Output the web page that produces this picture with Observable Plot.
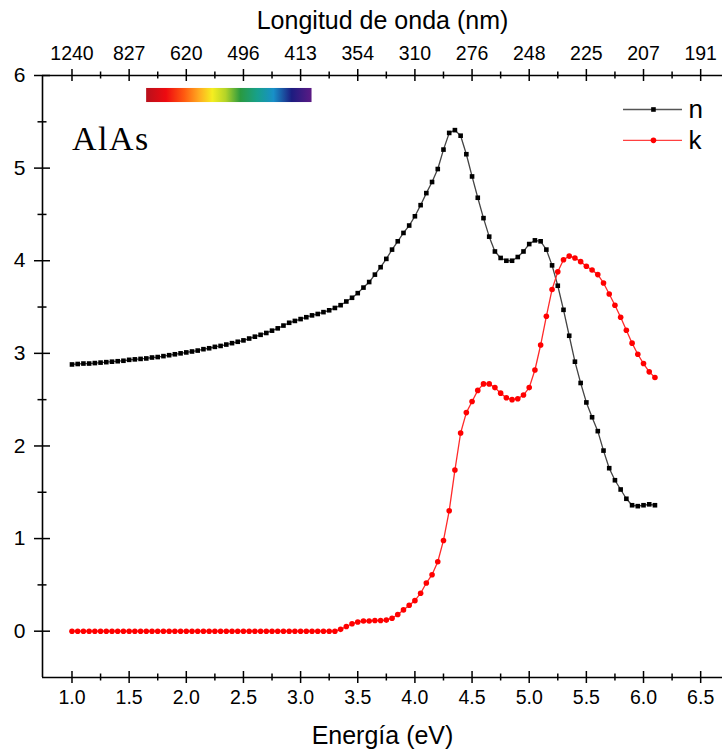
<!DOCTYPE html>
<html><head><meta charset="utf-8">
<script src="https://cdn.jsdelivr.net/npm/d3@7"></script>
<script src="https://cdn.jsdelivr.net/npm/@observablehq/plot@0.6"></script>
<style>
html,body{margin:0;padding:0;background:#fff;}
</style>
</head><body><div id="chart"></div>
<script>
// Photon energy (eV)
const energy = [
1.00,1.05,1.10,1.15,1.20,1.25,1.30,1.35,1.40,1.45,
1.50,1.55,1.60,1.65,1.70,1.75,1.80,1.85,1.90,1.95,
2.00,2.05,2.10,2.15,2.20,2.25,2.30,2.35,2.40,2.45,
2.50,2.55,2.60,2.65,2.70,2.75,2.80,2.85,2.90,2.95,
3.00,3.05,3.10,3.15,3.20,3.25,3.30,3.35,3.40,3.45,
3.50,3.55,3.60,3.65,3.70,3.75,3.80,3.85,3.90,3.95,
4.00,4.05,4.10,4.15,4.20,4.25,4.30,4.35,4.40,4.45,
4.50,4.55,4.60,4.65,4.70,4.75,4.80,4.85,4.90,4.95,
5.00,5.05,5.10,5.15,5.20,5.25,5.30,5.35,5.40,5.45,
5.50,5.55,5.60,5.65,5.70,5.75,5.80,5.85,5.90,5.95,
6.00,6.05,6.10];
// Refractive index n
const nValues = [
2.88,2.885,2.89,2.89,2.895,2.90,2.905,2.91,2.915,2.92,
2.93,2.935,2.94,2.945,2.955,2.96,2.97,2.98,2.99,3.00,
3.01,3.02,3.03,3.045,3.055,3.07,3.08,3.095,3.11,3.125,
3.14,3.16,3.18,3.20,3.22,3.245,3.27,3.30,3.33,3.35,
3.37,3.39,3.41,3.425,3.445,3.465,3.49,3.52,3.56,3.60,
3.65,3.71,3.77,3.85,3.93,4.02,4.12,4.21,4.30,4.38,
4.48,4.60,4.73,4.85,4.99,5.20,5.38,5.41,5.35,5.15,
4.91,4.68,4.46,4.26,4.10,4.03,4.00,4.00,4.04,4.10,
4.18,4.22,4.21,4.12,3.95,3.73,3.47,3.19,2.91,2.68,
2.47,2.31,2.16,1.95,1.76,1.63,1.53,1.43,1.36,1.35,
1.36,1.37,1.36];
// Extinction coefficient k
const kValues = [
0,0,0,0,0,0,0,0,0,0,
0,0,0,0,0,0,0,0,0,0,
0,0,0,0,0,0,0,0,0,0,
0,0,0,0,0,0,0,0,0,0,
0,0,0,0,0,0,0,0.02,0.05,0.08,
0.10,0.11,0.11,0.115,0.115,0.12,0.14,0.18,0.23,0.28,
0.33,0.41,0.52,0.61,0.75,0.98,1.30,1.74,2.14,2.36,
2.48,2.60,2.67,2.67,2.63,2.57,2.52,2.50,2.51,2.55,
2.63,2.82,3.09,3.40,3.69,3.88,4.01,4.05,4.03,3.99,
3.94,3.90,3.85,3.76,3.64,3.52,3.39,3.25,3.11,2.99,
2.89,2.80,2.74];

// Axis ticks and labels
const xTicks = [1.0,1.5,2.0,2.5,3.0,3.5,4.0,4.5,5.0,5.5,6.0,6.5];
const xTickLabels = ["1.0","1.5","2.0","2.5","3.0","3.5","4.0","4.5","5.0","5.5","6.0","6.5"];
const xMinorTicks = [1.25,1.75,2.25,2.75,3.25,3.75,4.25,4.75,5.25,5.75,6.25];
const wavelengthLabels = ["1240","827","620","496","413","354","310","276","248","225","207","191"];
const yTicks = [0,1,2,3,4,5,6];
const yMinorTicks = [0.5,1.5,2.5,3.5,4.5,5.5];
// visible spectrum bar (750 nm -> 400 nm) in eV
const spectrumRange = [1.653, 3.10];
const spectrumColors = ["#b8101c","#ee0a10","#ff5a10","#ffaa20","#f5ee20","#b4d428","#2a9a40","#17a08a","#1890c8","#1c1c80","#5c1a84"];
const spectrumStops = [0,0.12,0.23,0.32,0.40,0.48,0.57,0.67,0.77,0.88,1];

const data = energy.map((e, i) => ({e, n: nValues[i], k: kValues[i]}));
const X0 = 0.742, X1 = 6.691;

function spectrumDefs() {
  const ns = "http://www.w3.org/2000/svg";
  const defs = document.createElementNS(ns, "defs");
  const g = document.createElementNS(ns, "linearGradient");
  g.setAttribute("id", "spectrum");
  spectrumColors.forEach((c, i) => {
    const s = document.createElementNS(ns, "stop");
    s.setAttribute("offset", spectrumStops[i]);
    s.setAttribute("stop-color", c);
    g.appendChild(s);
  });
  defs.appendChild(g);
  return defs;
}

const plot = Plot.plot({
  width: 722, height: 751,
  marginLeft: 42, marginRight: 0, marginTop: 75, marginBottom: 74,
  style: {fontFamily: "'Liberation Sans', Arial, sans-serif", background: "white", overflow: "visible", color: "black"},
  x: {domain: [X0, X1], axis: null},
  y: {domain: [-0.5, 6], axis: null},
  marks: [
    spectrumDefs,
    Plot.rect([0], {x1: spectrumRange[0], x2: spectrumRange[1], y1: 5.708, y2: 5.86, fill: "url(#spectrum)"}),
    // axis lines
    Plot.ruleY([-0.5, 6], {stroke: "black", strokeWidth: 1.6}),
    Plot.ruleX([X0], {y1: -0.5, y2: 6, stroke: "black", strokeWidth: 1.6}),
    // bottom ticks
    Plot.ruleX(xTicks, {y1: -0.5, y2: -0.5, insetTop: -6, insetBottom: -6, stroke: "black", strokeWidth: 1.5}),
    Plot.ruleX(xMinorTicks, {y1: -0.5, y2: -0.5, insetTop: -3.5, insetBottom: -3.5, stroke: "black", strokeWidth: 1.5}),
    // top ticks
    Plot.ruleX(xTicks, {y1: 6, y2: 6, insetTop: -6, insetBottom: -6, stroke: "black", strokeWidth: 1.5}),
    Plot.ruleX(xMinorTicks, {y1: 6, y2: 6, insetTop: -3.5, insetBottom: -3.5, stroke: "black", strokeWidth: 1.5}),
    // left ticks
    Plot.ruleY(yTicks, {x1: X0, x2: X0, insetLeft: -8, insetRight: -8, stroke: "black", strokeWidth: 1.5}),
    Plot.ruleY(yMinorTicks, {x1: X0, x2: X0, insetLeft: -4.5, insetRight: -4.5, stroke: "black", strokeWidth: 1.5}),
    // tick labels
    Plot.text(xTicks, {x: d => d, y: -0.5, text: (d, i) => xTickLabels[i], dy: 20, fontSize: 19.5, fill: "black"}),
    Plot.text(xTicks, {x: d => d, y: 6, text: (d, i) => wavelengthLabels[i], dy: -22, fontSize: 19.5, fill: "black"}),
    Plot.text(yTicks, {x: X0, y: d => d, text: d => String(d), dx: -17, textAnchor: "end", fontSize: 21, fill: "black"}),
    // axis titles
    Plot.text(["Longitud de onda (nm)"], {frameAnchor: "top", lineAnchor: "middle", dy: -55, fontSize: 25, fill: "black"}),
    Plot.text(["Energía (eV)"], {frameAnchor: "bottom", lineAnchor: "middle", dy: 58, fontSize: 25, fill: "black"}),
    // data series
    Plot.line(data, {x: "e", y: "n", stroke: "#444", strokeWidth: 1.3}),
    Plot.dot(data, {x: "e", y: "n", symbol: "square", r: 2.6, fill: "black", stroke: "none"}),
    Plot.line(data, {x: "e", y: "k", stroke: "#ff2a2a", strokeWidth: 1.3}),
    Plot.dot(data, {x: "e", y: "k", symbol: "circle", r: 2.8, fill: "#ff0000", stroke: "none"}),
    // legend
    Plot.ruleY([5.633], {x1: 5.825, x2: 6.341, stroke: "#555", strokeWidth: 1.3}),
    Plot.dot([0], {x: 6.087, y: 5.633, symbol: "square", r: 2.6, fill: "black", stroke: "none"}),
    Plot.text(["n"], {x: 6.394, y: 5.633, textAnchor: "start", fontSize: 26, fill: "black"}),
    Plot.ruleY([5.30], {x1: 5.825, x2: 6.341, stroke: "#ff4040", strokeWidth: 1.3}),
    Plot.dot([0], {x: 6.087, y: 5.30, symbol: "circle", r: 2.8, fill: "#ff0000", stroke: "none"}),
    Plot.text(["k"], {x: 6.394, y: 5.30, textAnchor: "start", fontSize: 26, fill: "black"}),
    // material label
    Plot.text(["AlAs"], {x: 1.0, y: 5.31, textAnchor: "start", fontFamily: "'Liberation Serif', serif", fontSize: 34, fill: "black"})
  ]
});
plot.querySelectorAll("text").forEach(t => { if (t.textContent === "AlAs") t.style.letterSpacing = "1.5px"; });
document.getElementById("chart").appendChild(plot);
</script>
</body></html>
